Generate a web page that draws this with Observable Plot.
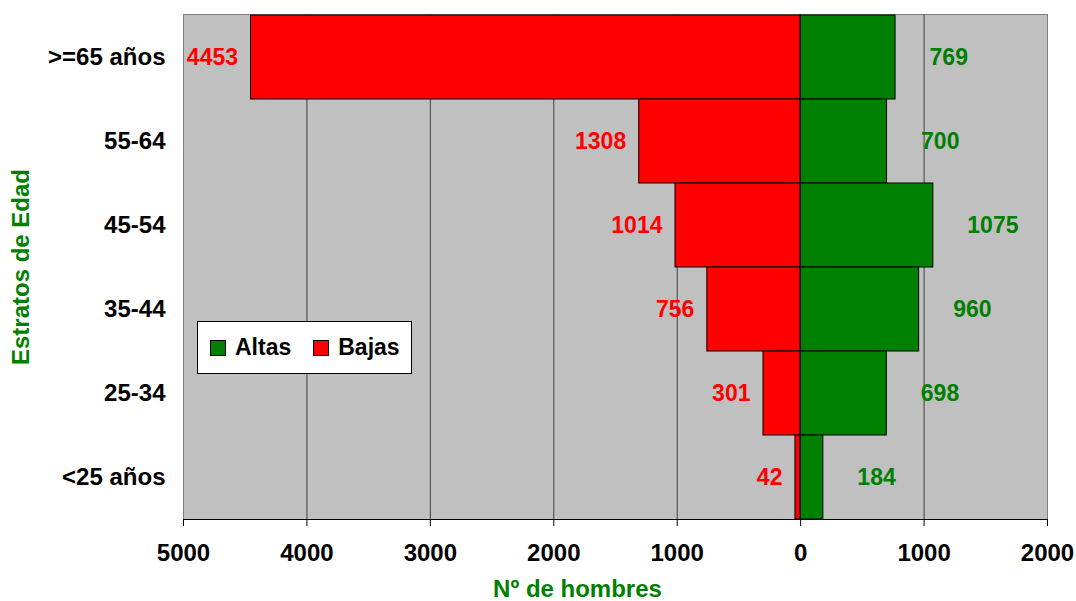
<!DOCTYPE html>
<html>
<head>
<meta charset="utf-8">
<script src="https://cdn.jsdelivr.net/npm/d3@7"></script>
<script src="https://cdn.jsdelivr.net/npm/@observablehq/plot@0.6"></script>
<style>
  body { margin: 0; background: #fff; font-family: "Liberation Sans", Arial, sans-serif; }
  #wrap { position: relative; width: 1076px; height: 601px; }
  #legend { position: absolute; left: 197px; top: 321px; width: 215px; height: 53px; background: #fff; border: 1px solid #000; box-sizing: border-box;
    font: bold 23px "Liberation Sans", Arial, sans-serif; display: flex; align-items: center; }
  .sw { display: inline-block; width: 16px; height: 16px; border: 1px solid #000; box-sizing: border-box; margin-right: 9px; }
  .it { display: flex; align-items: center; }
</style>
</head>
<body>
<div id="wrap"></div>
<script>
const categories = [">=65 años", "55-64", "45-54", "35-44", "25-34", "<25 años"];
const altas = [769, 700, 1075, 960, 698, 184];
const bajas = [4453, 1308, 1014, 756, 301, 42];
const xTicks = [-5000, -4000, -3000, -2000, -1000, 0, 1000, 2000];
const gridTicks = [-4000, -3000, -2000, -1000, 0, 1000];

const rows = categories.map((c, i) => ({cat: c, altas: altas[i], bajas: bajas[i]}));
const font = "Liberation Sans, Arial, sans-serif";

const chart = Plot.plot({
  width: 1076,
  height: 601,
  marginTop: 14,
  marginBottom: 82,
  marginLeft: 183,
  marginRight: 29,
  style: {fontFamily: font, fontSize: "24px", fontWeight: "bold", color: "#000", background: "#fff"},
  x: {domain: [-5000, 2000], ticks: xTicks, tickFormat: d => String(Math.abs(d)), tickSize: 7, tickPadding: 17, label: null},
  y: {domain: categories, padding: 0, tickSize: 0, tickPadding: 18,
      label: "Estratos de Edad", labelAnchor: "center", labelArrow: "none", labelOffset: 172},
  marks: [
    Plot.frame({fill: "#C0C0C0", stroke: "#808080"}),
    Plot.ruleX(gridTicks, {stroke: "#404040", strokeWidth: 1}),
    Plot.barX(rows, {y: "cat", x1: 0, x2: d => -d.bajas, fill: "#FF0000", stroke: "#000", strokeWidth: 1}),
    Plot.barX(rows, {y: "cat", x1: 0, x2: "altas", fill: "#008000", stroke: "#000", strokeWidth: 1}),
    Plot.text(rows, {y: "cat", x: d => -d.bajas, text: d => String(d.bajas), textAnchor: "end", dx: -13, fill: "#FF0000", fontSize: 23, fontWeight: "bold"}),
    Plot.text(rows, {y: "cat", x: "altas", text: d => String(d.altas), textAnchor: "start", dx: 34, fill: "#008000", fontSize: 23, fontWeight: "bold"}),
    Plot.frame({anchor: "bottom", stroke: "#000"}),
    Plot.text(["Nº de hombres"], {frameAnchor: "bottom", text: d => d, dy: 77, dx: -38, fill: "#008000", fontSize: 24, fontWeight: "bold"})
  ]
});

// color the y-axis title green
chart.querySelectorAll("g[aria-label='y-axis label'] text").forEach(t => t.setAttribute("fill", "#008000"));

const wrap = document.getElementById("wrap");
wrap.appendChild(chart);

const legend = document.createElement("div");
legend.id = "legend";
legend.innerHTML =
  '<span class="it" style="margin-left:12px"><span class="sw" style="background:#008000"></span>Altas</span>' +
  '<span class="it" style="margin-left:22px"><span class="sw" style="background:#FF0000"></span>Bajas</span>';
wrap.appendChild(legend);
</script>
</body>
</html>
